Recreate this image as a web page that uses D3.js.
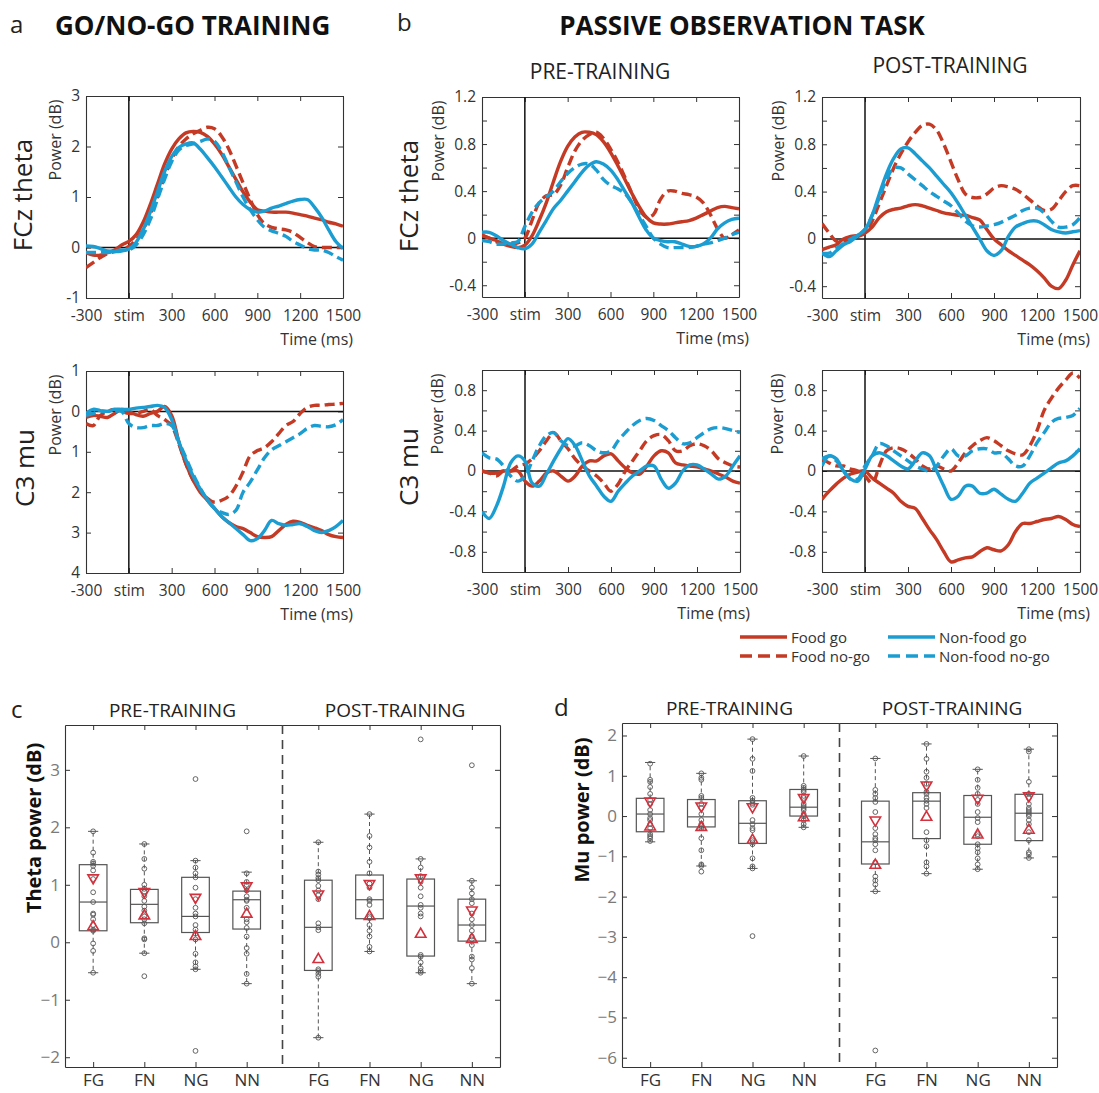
<!DOCTYPE html>
<html>
<head>
<meta charset="utf-8">
<script src="https://cdn.jsdelivr.net/npm/d3@7"></script>
<style>
  body { margin: 0; background: #fff; }
  svg text { font-family: "Open Sans", "Noto Sans", sans-serif; }
</style>
</head>
<body>
<svg id="fig" width="1099" height="1093"></svg>
<script>
// ---- time axis (ms) shared by all ERSP panels ----
const times = [-300,-250,-200,-150,-100,-50,0,50,100,150,200,250,300,350,400,450,500,550,600,650,700,750,800,850,900,950,1000,1050,1100,1150,1200,1250,1300,1350,1400,1450,1500];
const xTickValues = [-300,0,300,600,900,1200,1500];
const xTickLabels = ["-300","stim","300","600","900","1200","1500"];

// ---- a: Go/No-Go training, FCz theta ----
const aThetaFoodGo      = [-0.1,-0.15,-0.15,-0.1,-0.05,0.05,0.12,0.25,0.5,0.85,1.25,1.65,1.95,2.15,2.27,2.3,2.28,2.2,2.05,1.85,1.6,1.35,1.1,0.9,0.75,0.72,0.7,0.7,0.7,0.68,0.65,0.62,0.58,0.55,0.5,0.47,0.42];
const aThetaFoodNoGo    = [-0.4,-0.3,-0.2,-0.12,-0.08,-0.05,0.02,0.15,0.35,0.65,1.0,1.4,1.75,2.0,2.15,2.25,2.32,2.38,2.35,2.2,1.95,1.62,1.28,0.95,0.65,0.47,0.4,0.37,0.35,0.3,0.2,0.1,0.02,0.0,0.0,0.0,0.0];
const aThetaNonFoodGo   = [0.03,0.02,-0.02,-0.07,-0.08,-0.07,-0.03,0.1,0.35,0.7,1.1,1.5,1.8,1.98,2.05,2.07,1.95,1.78,1.6,1.4,1.2,1.0,0.85,0.75,0.7,0.72,0.78,0.82,0.87,0.92,0.95,0.95,0.8,0.6,0.35,0.12,-0.02];
const aThetaNonFoodNoGo = [-0.1,-0.1,-0.1,-0.1,-0.07,-0.05,-0.05,0.05,0.25,0.55,0.95,1.35,1.7,1.93,2.02,2.05,2.1,2.15,2.1,1.9,1.6,1.3,1.0,0.75,0.55,0.4,0.33,0.28,0.22,0.12,0.05,-0.02,-0.05,-0.05,-0.1,-0.18,-0.25];

// ---- a: Go/No-Go training, C3 mu (axis drawn reversed, decrease plotted downward) ----
const aMuFoodGo      = [0.15,0.1,0.12,0.15,0.05,-0.05,0.0,0.08,0.12,0.05,0.0,-0.12,0.1,0.75,1.3,1.7,2.0,2.2,2.4,2.6,2.75,2.85,2.9,3.0,3.1,3.12,3.1,2.95,2.8,2.72,2.75,2.82,2.88,2.95,3.05,3.1,3.12];
const aMuFoodNoGo    = [0.3,0.35,0.1,0.0,-0.05,0.0,0.05,0.05,0.0,-0.05,0.1,0.2,0.35,0.8,1.3,1.7,1.95,2.15,2.25,2.2,2.1,1.85,1.5,1.1,0.97,0.9,0.75,0.55,0.35,0.25,0.05,-0.1,-0.15,-0.15,-0.17,-0.18,-0.2];
const aMuNonFoodGo   = [0.05,-0.05,-0.02,0.0,-0.05,-0.05,-0.05,-0.08,-0.1,-0.12,-0.15,-0.1,0.2,0.75,1.2,1.6,1.92,2.18,2.4,2.6,2.75,2.9,3.05,3.2,3.15,2.95,2.7,2.78,2.82,2.8,2.78,2.85,2.95,3.0,2.95,2.85,2.7];
const aMuNonFoodNoGo = [0.1,0.05,0.0,0.0,0.0,0.0,0.3,0.4,0.4,0.35,0.35,0.3,0.35,0.75,1.15,1.55,1.9,2.2,2.4,2.5,2.55,2.45,2.0,1.75,1.45,1.15,0.95,0.85,0.75,0.65,0.55,0.42,0.35,0.37,0.38,0.33,0.2];

// ---- b: passive observation, FCz theta ----
const preThetaFoodGo       = [0.03,0.0,-0.02,-0.05,-0.07,-0.08,-0.06,0.02,0.15,0.3,0.48,0.65,0.78,0.86,0.9,0.9,0.88,0.82,0.73,0.62,0.5,0.38,0.27,0.18,0.13,0.12,0.12,0.13,0.14,0.15,0.17,0.2,0.23,0.26,0.27,0.26,0.25];
const preThetaFoodNoGo     = [0.02,0.0,-0.03,-0.05,-0.05,-0.04,0.0,0.15,0.3,0.36,0.37,0.45,0.6,0.74,0.83,0.88,0.9,0.85,0.76,0.65,0.52,0.38,0.25,0.18,0.2,0.33,0.4,0.4,0.38,0.37,0.35,0.3,0.2,0.08,0.0,0.03,0.07];
const preThetaNonFoodGo    = [0.05,0.05,0.02,-0.02,-0.05,-0.08,-0.09,-0.05,0.05,0.15,0.25,0.32,0.4,0.48,0.56,0.62,0.65,0.63,0.58,0.5,0.4,0.3,0.18,0.07,0.0,-0.02,-0.03,-0.03,-0.05,-0.07,-0.07,-0.05,0.0,0.08,0.13,0.16,0.17];
const preThetaNonFoodNoGo  = [-0.02,-0.03,-0.05,-0.05,-0.04,-0.03,0.1,0.22,0.3,0.35,0.4,0.48,0.55,0.6,0.63,0.63,0.58,0.5,0.45,0.42,0.38,0.3,0.2,0.1,0.0,-0.05,-0.08,-0.08,-0.08,-0.08,-0.07,-0.05,-0.04,-0.02,0.0,0.03,0.05];
const postThetaFoodGo      = [-0.09,-0.07,-0.05,0.0,0.02,0.03,0.05,0.1,0.18,0.23,0.25,0.26,0.28,0.29,0.28,0.26,0.24,0.22,0.21,0.2,0.2,0.18,0.16,0.08,0.0,-0.05,-0.1,-0.14,-0.18,-0.22,-0.27,-0.33,-0.4,-0.42,-0.35,-0.22,-0.1];
const postThetaFoodNoGo    = [0.13,0.05,-0.02,-0.02,0.0,0.02,0.05,0.15,0.3,0.45,0.6,0.72,0.82,0.9,0.96,0.97,0.92,0.8,0.65,0.5,0.38,0.35,0.35,0.38,0.43,0.45,0.44,0.42,0.38,0.33,0.28,0.24,0.25,0.32,0.4,0.45,0.45];
const postThetaNonFoodGo   = [-0.12,-0.15,-0.1,-0.05,-0.02,0.03,0.08,0.2,0.38,0.55,0.68,0.76,0.77,0.72,0.66,0.6,0.53,0.46,0.39,0.3,0.2,0.1,0.0,-0.1,-0.14,-0.1,0.02,0.1,0.13,0.15,0.15,0.12,0.08,0.06,0.05,0.06,0.07];
const postThetaNonFoodNoGo = [-0.12,-0.12,-0.08,-0.04,0.0,0.03,0.08,0.2,0.35,0.5,0.6,0.6,0.55,0.5,0.45,0.4,0.36,0.32,0.28,0.22,0.15,0.11,0.1,0.11,0.12,0.14,0.17,0.2,0.24,0.26,0.26,0.22,0.15,0.1,0.1,0.12,0.18];

// ---- b: passive observation, C3 mu ----
const preMuFoodGo       = [0.0,-0.02,-0.02,0.0,0.0,0.0,-0.1,-0.15,-0.1,-0.02,0.0,-0.05,-0.1,-0.05,0.05,0.1,0.1,0.15,0.17,0.1,0.03,-0.02,-0.03,0.05,0.15,0.2,0.18,0.08,0.06,0.05,0.04,0.02,0.0,-0.03,-0.06,-0.1,-0.12];
const preMuFoodNoGo     = [0.0,-0.02,-0.05,0.0,0.0,0.05,0.07,0.12,0.2,0.3,0.38,0.3,0.22,0.12,0.05,0.0,-0.05,-0.12,-0.2,-0.13,0.0,0.1,0.2,0.3,0.35,0.36,0.3,0.2,0.2,0.25,0.27,0.25,0.2,0.12,0.08,0.05,0.04];
const preMuNonFoodGo    = [-0.4,-0.47,-0.35,-0.15,0.08,0.15,0.1,-0.12,-0.15,-0.03,0.1,0.22,0.32,0.25,0.1,-0.05,-0.15,-0.25,-0.3,-0.2,-0.12,-0.05,0.0,0.05,0.05,-0.08,-0.17,-0.12,0.0,0.06,0.06,0.02,-0.03,-0.08,-0.05,0.05,0.15];
const preMuNonFoodNoGo  = [0.18,0.13,0.12,0.05,-0.05,-0.1,-0.05,0.1,0.25,0.35,0.38,0.3,0.25,0.25,0.28,0.25,0.2,0.18,0.2,0.3,0.38,0.45,0.5,0.52,0.5,0.45,0.4,0.33,0.27,0.28,0.33,0.38,0.42,0.43,0.42,0.4,0.38];
const postMuFoodGo      = [-0.28,-0.2,-0.13,-0.07,-0.03,-0.01,0.0,-0.07,-0.12,-0.17,-0.22,-0.3,-0.35,-0.37,-0.47,-0.58,-0.68,-0.8,-0.9,-0.88,-0.86,-0.85,-0.8,-0.76,-0.78,-0.79,-0.73,-0.6,-0.52,-0.52,-0.5,-0.48,-0.47,-0.45,-0.48,-0.53,-0.55];
const postMuFoodNoGo    = [0.12,0.08,0.05,0.05,0.02,0.0,-0.05,-0.12,0.05,0.2,0.23,0.22,0.18,0.12,0.05,0.02,0.05,0.02,0.0,0.08,0.18,0.25,0.3,0.33,0.3,0.25,0.2,0.17,0.16,0.25,0.4,0.6,0.72,0.82,0.9,0.97,0.92];
const postMuNonFoodGo   = [0.05,0.15,0.12,0.0,-0.08,-0.1,0.02,0.15,0.18,0.15,0.1,0.05,0.02,0.1,0.18,0.15,0.0,-0.15,-0.28,-0.25,-0.15,-0.15,-0.22,-0.22,-0.18,-0.23,-0.28,-0.3,-0.22,-0.12,-0.07,-0.02,0.03,0.08,0.1,0.15,0.22];
const postMuNonFoodNoGo = [0.12,0.15,0.1,0.0,-0.08,-0.08,0.05,0.15,0.27,0.25,0.2,0.15,0.1,0.05,0.02,0.0,0.05,0.15,0.22,0.15,0.15,0.2,0.22,0.22,0.18,0.18,0.12,0.05,0.05,0.15,0.28,0.38,0.48,0.52,0.53,0.55,0.62];

// y ticks
const aThetaTicks = [-1,0,1,2,3];
const aThetaTickLabels = ["-1","0","1","2","3"];
const aMuTicks = [-1,0,1,2,3,4];
const aMuTickLabels = ["1","0","1","2","3","4"];
const bThetaTicks = [-0.4,-0.2,0,0.2,0.4,0.6,0.8,1.0,1.2];
const bThetaTickLabels = ["-0.4","","0","","0.4","","0.8","","1.2"];
const bMuTicks = [-1,-0.8,-0.6,-0.4,-0.2,0,0.2,0.4,0.6,0.8,1];
const bMuTickLabels = ["","-0.8","","-0.4","","0","","0.4","","0.8",""];

const seriesNames = ["Food go","Food no-go","Non-food go","Non-food no-go"];

// ---- c/d: box plots (pre FG FN NG NN, post FG FN NG NN) ----
const boxCategories = ["FG","FN","NG","NN","FG","FN","NG","NN"];
const boxPositions = [1,2,3,4,5.4,6.4,7.4,8.4];

const thetaQ1        = [0.20,0.34,0.17,0.23,-0.49,0.41,-0.24,0.02];
const thetaMedian    = [0.70,0.66,0.45,0.74,0.26,0.74,0.63,0.30];
const thetaQ3        = [1.35,0.92,1.13,0.89,1.08,1.17,1.10,0.75];
const thetaWhiskLo   = [-0.53,-0.19,-0.47,-0.72,-1.66,-0.16,-0.53,-0.72];
const thetaWhiskHi   = [1.93,1.71,1.42,1.22,1.74,2.23,1.45,1.07];
const thetaMarkDown  = [1.12,0.88,0.78,0.98,0.84,1.02,1.12,0.56];
const thetaMarkUp    = [0.27,0.46,0.10,0.49,-0.30,0.45,0.14,0.05];
const thetaPoints = [
  [1.93,1.56,1.40,1.37,1.33,1.25,1.10,0.87,0.70,0.50,0.48,0.40,0.30,0.22,0.20,-0.02,-0.15,-0.53],
  [1.71,1.45,1.28,1.00,0.93,0.88,0.80,0.72,0.62,0.55,0.45,0.40,0.33,0.07,0.05,-0.19,-0.59],
  [2.84,1.42,1.30,1.20,1.13,0.95,0.75,0.60,0.50,0.45,0.30,0.22,0.15,0.05,-0.20,-0.35,-0.42,-0.47,-1.89],
  [1.93,1.20,1.05,1.00,0.90,0.80,0.74,0.72,0.60,0.40,0.35,0.25,0.10,-0.10,-0.20,-0.55,-0.72],
  [1.74,1.23,1.18,1.12,1.08,0.98,0.90,0.82,0.75,0.33,0.26,0.21,-0.47,-0.50,-0.55,-0.60,-1.66],
  [2.23,1.85,1.65,1.40,1.20,1.02,0.95,0.75,0.72,0.65,0.45,0.42,0.30,0.20,0.10,-0.08,-0.16],
  [3.53,1.45,1.30,1.15,1.05,0.95,0.80,0.65,0.60,0.50,0.45,-0.22,-0.25,-0.35,-0.45,-0.50,-0.53],
  [3.08,1.07,0.95,0.85,0.75,0.68,0.50,0.40,0.30,0.20,0.10,0.05,-0.05,-0.25,-0.30,-0.45,-0.72]
];

const muQ1        = [-0.39,-0.27,-0.68,0.00,-1.19,-0.56,-0.70,-0.61];
const muMedian    = [0.05,-0.02,-0.18,0.22,-0.64,0.37,-0.03,0.07];
const muQ3        = [0.44,0.41,0.38,0.66,0.37,0.58,0.51,0.54];
const muWhiskLo   = [-0.64,-1.24,-1.30,-0.28,-1.87,-1.43,-1.32,-1.04];
const muWhiskHi   = [1.33,1.06,1.91,1.49,1.43,1.79,1.16,1.66];
const muMarkDown  = [0.37,0.25,0.23,0.46,-0.10,0.77,0.44,0.50];
const muMarkUp    = [-0.27,-0.28,-0.60,-0.04,-1.22,-0.03,-0.47,-0.35];
const muPoints = [
  [1.30,0.90,0.85,0.72,0.55,0.40,0.30,0.15,0.05,-0.05,-0.10,-0.20,-0.30,-0.45,-0.50,-0.55,-0.62],
  [1.06,0.95,0.90,0.50,0.45,0.30,0.20,0.05,-0.10,-0.20,-0.25,-0.30,-0.55,-0.85,-1.20,-1.24,-1.38],
  [1.91,1.42,1.12,0.45,0.38,0.32,0.28,-0.10,-0.20,-0.30,-0.35,-0.60,-0.65,-0.70,-1.05,-1.25,-1.30,-2.98],
  [1.49,0.75,0.70,0.65,0.60,0.50,0.45,0.30,0.25,0.20,0.15,0.05,0.00,-0.10,-0.20,-0.28],
  [1.43,0.65,0.55,0.45,0.35,0.10,-0.30,-0.45,-0.55,-0.60,-0.70,-0.85,-1.15,-1.50,-1.60,-1.70,-1.87,-5.82],
  [1.79,1.42,1.10,0.95,0.80,0.60,0.55,0.45,0.38,0.30,0.20,-0.40,-0.60,-0.75,-1.15,-1.25,-1.43],
  [1.16,0.90,0.70,0.55,0.40,0.30,0.10,-0.05,-0.15,-0.45,-0.50,-0.70,-0.80,-0.90,-1.05,-1.20,-1.32],
  [1.66,1.60,0.85,0.55,0.45,0.30,0.20,0.15,0.10,0.05,0.00,-0.10,-0.20,-0.40,-0.60,-0.90,-0.95,-1.04]
];
const thetaBoxTicks = [-2,-1,0,1,2,3];
const muBoxTicks = [-6,-5,-4,-3,-2,-1,0,1,2];

const red = "#c43a24";
const blue = "#1c9dd2";
const markRed = "#d3313d";
const seriesStyle = [
  { color: red, dash: null },
  { color: red, dash: "10,5" },
  { color: blue, dash: null },
  { color: blue, dash: "10,5" }
];

const svg = d3.select("#fig");

function styleAxis(sel, size, color) {
  sel.attr("font-size", null).attr("font-family", null);
  sel.select(".domain").attr("stroke", "#333").attr("stroke-width", 1.1);
  sel.selectAll(".tick line").attr("stroke", "#333");
  sel.selectAll(".tick text").attr("fill", color).style("font-size", size + "px");
}

function drawTimePanel(p, idx) {
  const x = d3.scaleLinear().domain([-300, 1500]).range([p.left, p.right]);
  const y = d3.scaleLinear().domain(p.yDomain)
    .range(p.inverted ? [p.top, p.bottom] : [p.bottom, p.top]);
  const g = svg.append("g");

  g.append("clipPath").attr("id", "clip" + idx)
    .append("rect")
    .attr("x", p.left).attr("y", p.top)
    .attr("width", p.right - p.left).attr("height", p.bottom - p.top);

  // box frame with inward ticks
  g.append("g").attr("transform", `translate(0,${p.bottom})`)
    .call(d3.axisBottom(x).tickValues(xTickValues)
      .tickFormat((d, i) => xTickLabels[i]).tickSizeInner(-5).tickSizeOuter(0).tickPadding(12))
    .call(s => styleAxis(s, 15.5, "#333"));
  g.append("g").attr("transform", `translate(0,${p.top})`)
    .call(d3.axisTop(x).tickValues(xTickValues).tickFormat("").tickSizeInner(-5).tickSizeOuter(0))
    .call(s => styleAxis(s, 15, "#333"));
  g.append("g").attr("transform", `translate(${p.left},0)`)
    .call(d3.axisLeft(y).tickValues(p.yTicks)
      .tickFormat((d, i) => p.yTickLabels[i]).tickSizeInner(-5).tickSizeOuter(0).tickPadding(6))
    .call(s => styleAxis(s, 15.5, "#333"));
  g.append("g").attr("transform", `translate(${p.right},0)`)
    .call(d3.axisRight(y).tickValues(p.yTicks).tickFormat("").tickSizeInner(-5).tickSizeOuter(0))
    .call(s => styleAxis(s, 15, "#333"));

  // zero line and stimulus onset
  g.append("line")
    .attr("x1", p.left).attr("x2", p.right).attr("y1", y(0)).attr("y2", y(0))
    .attr("stroke", "#111").attr("stroke-width", 1.5);
  g.append("line")
    .attr("x1", x(0)).attr("x2", x(0)).attr("y1", p.top).attr("y2", p.bottom)
    .attr("stroke", "#111").attr("stroke-width", 1.5);

  const line = d3.line()
    .x((d, i) => x(times[i]))
    .y(d => y(d))
    .curve(d3.curveCatmullRom.alpha(0.5));

  g.append("g").attr("clip-path", `url(#clip${idx})`)
    .selectAll("path")
    .data(p.series)
    .join("path")
    .attr("d", line)
    .attr("fill", "none")
    .attr("stroke", (d, i) => seriesStyle[i].color)
    .attr("stroke-width", 3.4)
    .attr("stroke-dasharray", (d, i) => seriesStyle[i].dash)
    .attr("stroke-linejoin", "round");

  // labels
  g.append("text")
    .attr("x", p.right + 10).attr("y", p.bottom + 47)
    .attr("text-anchor", "end").attr("fill", "#333").style("font-size", "16px")
    .text("Time (ms)");
  g.append("text")
    .attr("transform", `translate(${p.left - p.powerOffset},${p.top + 44}) rotate(-90)`)
    .attr("text-anchor", "middle").attr("dominant-baseline", "central")
    .attr("fill", "#333").style("font-size", "16px")
    .text("Power (dB)");
  if (p.rowLabel) {
    g.append("text")
      .attr("transform", `translate(${p.rowX},${p.rowY}) rotate(-90)`)
      .attr("text-anchor", "middle").attr("dominant-baseline", "central")
      .attr("fill", "#222").style("font-size", "26px")
      .text(p.rowLabel);
  }
}

const timePanels = [
  { left: 86, right: 343, top: 96, bottom: 298, yDomain: [-1, 3], inverted: false,
    yTicks: aThetaTicks, yTickLabels: aThetaTickLabels, powerOffset: 31,
    series: [aThetaFoodGo, aThetaFoodNoGo, aThetaNonFoodGo, aThetaNonFoodNoGo],
    rowLabel: "FCz theta", rowX: 22, rowY: 195 },
  { left: 86, right: 343, top: 371, bottom: 573, yDomain: [-1, 4], inverted: true,
    yTicks: aMuTicks, yTickLabels: aMuTickLabels, powerOffset: 31,
    series: [aMuFoodGo, aMuFoodNoGo, aMuNonFoodGo, aMuNonFoodNoGo],
    rowLabel: "C3 mu", rowX: 24, rowY: 468 },
  { left: 482, right: 739, top: 97, bottom: 297, yDomain: [-0.5, 1.2], inverted: false,
    yTicks: bThetaTicks, yTickLabels: bThetaTickLabels, powerOffset: 44,
    series: [preThetaFoodGo, preThetaFoodNoGo, preThetaNonFoodGo, preThetaNonFoodNoGo],
    rowLabel: "FCz theta", rowX: 408, rowY: 196 },
  { left: 822, right: 1080, top: 97, bottom: 298, yDomain: [-0.5, 1.2], inverted: false,
    yTicks: bThetaTicks, yTickLabels: bThetaTickLabels, powerOffset: 44,
    series: [postThetaFoodGo, postThetaFoodNoGo, postThetaNonFoodGo, postThetaNonFoodNoGo],
    rowLabel: null },
  { left: 482, right: 740, top: 370, bottom: 572, yDomain: [-1, 1], inverted: false,
    yTicks: bMuTicks, yTickLabels: bMuTickLabels, powerOffset: 45,
    series: [preMuFoodGo, preMuFoodNoGo, preMuNonFoodGo, preMuNonFoodNoGo],
    rowLabel: "C3 mu", rowX: 408, rowY: 467 },
  { left: 822, right: 1080, top: 370, bottom: 572, yDomain: [-1, 1], inverted: false,
    yTicks: bMuTicks, yTickLabels: bMuTickLabels, powerOffset: 45,
    series: [postMuFoodGo, postMuFoodNoGo, postMuNonFoodGo, postMuNonFoodNoGo],
    rowLabel: null }
];
timePanels.forEach(drawTimePanel);

// ---- titles for a / b ----
svg.append("text").attr("x", 10).attr("y", 33).style("font-size", "24px").attr("fill", "#222").text("a");
svg.append("text").attr("x", 55).attr("y", 35).style("font-size", "26px").style("font-weight", "bold")
  .attr("fill", "#111").text("GO/NO-GO TRAINING");
svg.append("text").attr("x", 397).attr("y", 31).style("font-size", "24px").attr("fill", "#222").text("b");
svg.append("text").attr("x", 742).attr("y", 35).attr("text-anchor", "middle")
  .style("font-size", "26px").style("font-weight", "bold").attr("fill", "#111").text("PASSIVE OBSERVATION TASK");
svg.append("text").attr("x", 600).attr("y", 79).attr("text-anchor", "middle")
  .style("font-size", "21px").attr("fill", "#222").text("PRE-TRAINING");
svg.append("text").attr("x", 950).attr("y", 73).attr("text-anchor", "middle")
  .style("font-size", "21px").attr("fill", "#222").text("POST-TRAINING");

// ---- legend ----
const legendItems = [
  { name: seriesNames[0], x: 740, y: 637 },
  { name: seriesNames[1], x: 740, y: 656 },
  { name: seriesNames[2], x: 888, y: 637 },
  { name: seriesNames[3], x: 888, y: 656 }
];
const legend = svg.append("g");
legendItems.forEach((d, i) => {
  legend.append("line")
    .attr("x1", d.x).attr("x2", d.x + 47).attr("y1", d.y).attr("y2", d.y)
    .attr("stroke", seriesStyle[i].color).attr("stroke-width", 3.4)
    .attr("stroke-dasharray", seriesStyle[i].dash ? "12,6" : null);
  legend.append("text")
    .attr("x", d.x + 51).attr("y", d.y).attr("dominant-baseline", "central")
    .style("font-size", "15px").attr("fill", "#333").text(d.name);
});

// ---- box plot panels ----
function drawBoxPanel(p) {
  const x = d3.scaleLinear().domain([0.45, 8.95]).range([p.left, p.right]);
  const y = d3.scaleLinear().domain(p.yDomain).range([p.bottom, p.top]);
  const g = svg.append("g");

  g.append("g").attr("transform", `translate(0,${p.bottom})`)
    .call(d3.axisBottom(x).tickValues(boxPositions)
      .tickFormat((d, i) => boxCategories[i]).tickSizeInner(-5).tickSizeOuter(0).tickPadding(7))
    .call(s => styleAxis(s, 17, "#333"));
  g.append("g").attr("transform", `translate(0,${p.top})`)
    .call(d3.axisTop(x).tickValues(boxPositions).tickFormat("").tickSizeInner(-5).tickSizeOuter(0))
    .call(s => styleAxis(s, 17, "#333"));
  g.append("g").attr("transform", `translate(${p.left},0)`)
    .call(d3.axisLeft(y).tickValues(p.yTicks).tickFormat(d3.format("d"))
      .tickSizeInner(-5).tickSizeOuter(0).tickPadding(5))
    .call(s => styleAxis(s, 17, "#7a7a7a"));
  g.append("g").attr("transform", `translate(${p.right},0)`)
    .call(d3.axisRight(y).tickValues(p.yTicks).tickFormat("").tickSizeInner(-5).tickSizeOuter(0))
    .call(s => styleAxis(s, 17, "#7a7a7a"));

  // pre / post divider
  g.append("line")
    .attr("x1", x(4.7)).attr("x2", x(4.7)).attr("y1", p.top).attr("y2", p.bottom)
    .attr("stroke", "#444").attr("stroke-width", 1.6).attr("stroke-dasharray", "9,6");

  const half = 0.27;
  const cap = 0.1;
  boxPositions.forEach((pos, i) => {
    const cx = x(pos);
    const bg = g.append("g");
    // whiskers
    [[p.q3[i], p.whiskHi[i]], [p.q1[i], p.whiskLo[i]]].forEach(([a, b]) => {
      bg.append("line").attr("x1", cx).attr("x2", cx).attr("y1", y(a)).attr("y2", y(b))
        .attr("stroke", "#555").attr("stroke-width", 1).attr("stroke-dasharray", "4,3");
      bg.append("line").attr("x1", x(pos - cap)).attr("x2", x(pos + cap)).attr("y1", y(b)).attr("y2", y(b))
        .attr("stroke", "#555").attr("stroke-width", 1);
    });
    bg.append("rect")
      .attr("x", x(pos - half)).attr("width", x(pos + half) - x(pos - half))
      .attr("y", y(p.q3[i])).attr("height", y(p.q1[i]) - y(p.q3[i]))
      .attr("fill", "none").attr("stroke", "#555").attr("stroke-width", 1.2);
    bg.append("line").attr("x1", x(pos - half)).attr("x2", x(pos + half))
      .attr("y1", y(p.median[i])).attr("y2", y(p.median[i]))
      .attr("stroke", "#555").attr("stroke-width", 1.2);
    bg.selectAll("circle").data(p.points[i]).join("circle")
      .attr("cx", cx).attr("cy", d => y(d)).attr("r", 2.4)
      .attr("fill", "none").attr("stroke", "#555").attr("stroke-width", 0.9);
    const tri = d3.symbol(d3.symbolTriangle, 48);
    bg.append("path").attr("d", tri())
      .attr("transform", `translate(${cx},${y(p.markDown[i])}) rotate(180)`)
      .attr("fill", "none").attr("stroke", markRed).attr("stroke-width", 1.6);
    bg.append("path").attr("d", tri())
      .attr("transform", `translate(${cx},${y(p.markUp[i])})`)
      .attr("fill", "none").attr("stroke", markRed).attr("stroke-width", 1.6);
  });

  g.append("text").attr("x", x(2.55)).attr("y", p.top - 8).attr("text-anchor", "middle")
    .style("font-size", "19px").attr("fill", "#222").text("PRE-TRAINING");
  g.append("text").attr("x", x(6.9)).attr("y", p.top - 8).attr("text-anchor", "middle")
    .style("font-size", "19px").attr("fill", "#222").text("POST-TRAINING");
  g.append("text")
    .attr("transform", `translate(${p.labelX},${p.labelY}) rotate(-90)`)
    .attr("text-anchor", "middle").attr("dominant-baseline", "central")
    .style("font-size", "20px").style("font-weight", "bold").attr("fill", "#111")
    .text(p.yLabel);
  g.append("text").attr("x", p.letterX).attr("y", p.top - 7)
    .style("font-size", "24px").attr("fill", "#222").text(p.letter);
}

drawBoxPanel({
  left: 65, right: 500, top: 725, bottom: 1067, yDomain: [-2.17, 3.78], yTicks: thetaBoxTicks,
  q1: thetaQ1, median: thetaMedian, q3: thetaQ3, whiskLo: thetaWhiskLo, whiskHi: thetaWhiskHi,
  markDown: thetaMarkDown, markUp: thetaMarkUp, points: thetaPoints,
  yLabel: "Theta power (dB)", labelX: 33, labelY: 828, letter: "c", letterX: 11
});
drawBoxPanel({
  left: 622, right: 1057, top: 723, bottom: 1067, yDomain: [-6.23, 2.31], yTicks: muBoxTicks,
  q1: muQ1, median: muMedian, q3: muQ3, whiskLo: muWhiskLo, whiskHi: muWhiskHi,
  markDown: muMarkDown, markUp: muMarkUp, points: muPoints,
  yLabel: "Mu power (dB)", labelX: 581, labelY: 810, letter: "d", letterX: 554
});
</script>
</body>
</html>
